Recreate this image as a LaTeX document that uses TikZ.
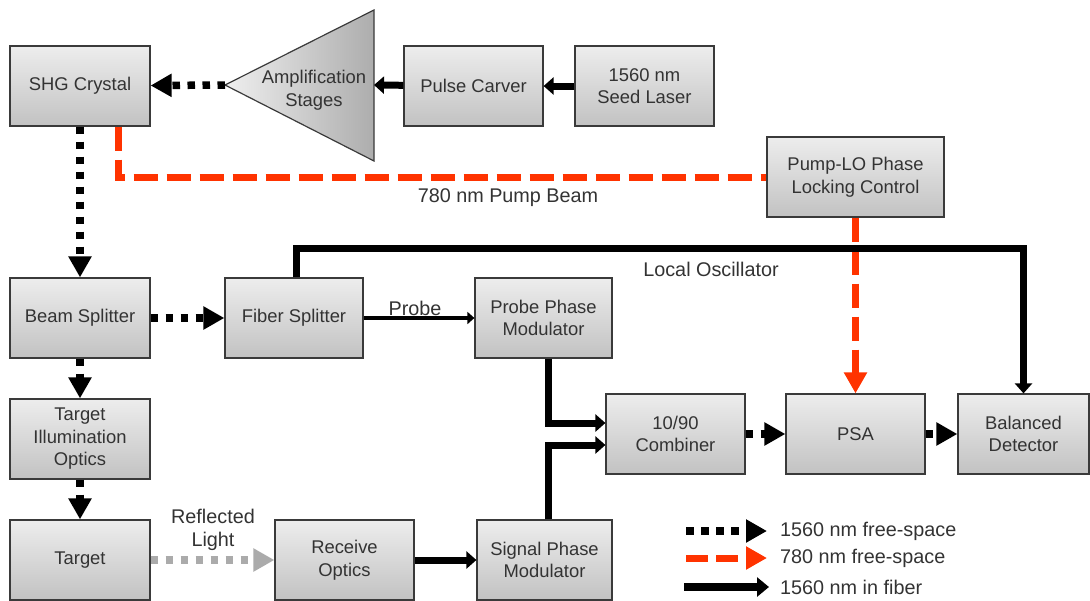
\documentclass[tikz,border=0pt]{standalone}
\usepackage{fontspec}
\setmainfont{Liberation Sans}
\usetikzlibrary{arrows.meta,shadings}
\definecolor{txt}{HTML}{333333}
\definecolor{pumpc}{HTML}{FF3300}
\definecolor{reflc}{HTML}{ABABAB}
\definecolor{edgec}{HTML}{3A3A3A}
\definecolor{boxtop}{HTML}{EDEDED}
\definecolor{boxbot}{HTML}{C2C2C2}
\definecolor{trileft}{HTML}{EFEFEF}
\definecolor{triright}{HTML}{ADADAD}
\begin{document}
\begin{tikzpicture}[x=1pt,y=-1pt,
  every node/.style={text=txt,font=\fontsize{18.4}{22.5}\selectfont},
  box/.style={draw=edgec,line width=1.2pt,top color=boxtop,bottom color=boxbot,
    minimum height=80pt,inner sep=0pt,align=center},
  lbl/.style={inner sep=0pt,align=center,font=\fontsize{19.8}{23}\selectfont},
  freesp/.style={line width=7.5pt,dash pattern=on 7.5pt off 7.5pt,
    -{Triangle[length=21pt,width=22pt]}},
  pumpln/.style={pumpc,line width=7pt,dash pattern=on 24pt off 9pt},
  pumparr/.style={pumpln,-{Triangle[length=21pt,width=22pt]}},
  reflln/.style={reflc,line width=7.5pt,dash pattern=on 7.5pt off 7.5pt,
    -{Triangle[length=21pt,width=22pt]}},
  fiber/.style={line width=7pt,line join=miter,-{Triangle[length=10pt,width=17pt]}},
  probeln/.style={line width=4.5pt,-{Triangle[length=7pt,width=12pt]}}
]
\useasboundingbox (0,0) rectangle (1090,600);

% boxes
\node[box,minimum width=140pt] (shg) at (80,86) {SHG Crystal};
\node[box,minimum width=139pt] (pulse) at (473.5,86) {Pulse Carver};
\node[box,minimum width=139pt] (seed) at (644.5,86) {1560 nm\\Seed Laser};
\node[box,minimum width=177pt] (pump) at (855.5,177) {Pump-LO Phase\\Locking Control};
\node[box,minimum width=140pt] (bs) at (80,318) {Beam Splitter};
\node[box,minimum width=138pt] (fs) at (294,318) {Fiber Splitter};
\node[box,minimum width=137pt] (ppm) at (543.5,318) {Probe Phase\\Modulator};
\node[box,minimum width=140pt] (tio) at (80,439) {Target\\Illumination\\Optics};
\node[box,minimum width=140pt] (target) at (80,560) {Target};
\node[box,minimum width=139pt] (ro) at (344.5,560) {Receive\\Optics};
\node[box,minimum width=135pt] (spm) at (544.5,560) {Signal Phase\\Modulator};
\node[box,minimum width=139pt] (comb) at (675.5,434) {10/90\\Combiner};
\node[box,minimum width=139pt] (psa) at (855.5,434) {PSA};
\node[box,minimum width=131pt] (bd) at (1023.5,434) {Balanced\\Detector};

% amplifier triangle
\coordinate (ampL) at (225,85);
\coordinate (ampR) at (374,85);
\draw[draw=edgec,line width=1.2pt,left color=trileft,right color=triright]
  (ampL) -- (374,10) -- (374,161) -- cycle;
\node[inner sep=0pt,align=center] (amptxt) at (314,90) {Amplification\\Stages};

% connectors
\draw[fiber] (seed) -- (pulse);
\draw[fiber] (pulse) -- (ampR);
\draw[freesp] (ampL) -- (shg);
\draw[freesp] (shg) -- (bs);
\draw[pumpln] ([xshift=38pt]shg.south) |- (pump.west);
\draw[pumparr] (pump) -- (psa);
\coordinate (lo) at (296,248);
\draw[fiber] (fs.north -| lo) -- (lo) -| (bd.north);
\draw[freesp] (bs) -- (fs);
\draw[probeln] (fs) -- (ppm);
\draw[fiber] ([xshift=4.5pt]ppm.south) |- ([yshift=11pt]comb.west);
\draw[fiber] ([xshift=3.5pt]spm.north) |- ([yshift=-11pt]comb.west);
\draw[freesp] (comb) -- (psa);
\draw[freesp] (psa) -- (bd);
\draw[freesp] (bs) -- (tio);
\draw[freesp] (tio) -- (target);
\draw[reflln] (target) -- (ro);
\draw[fiber] (ro) -- (spm);

% labels
\node[lbl] (pumplbl) at (508,198) {780 nm Pump Beam};
\node[lbl] (lolbl) at (711,269) {Local Oscillator};
\node[lbl] (probelbl) at (415,308) {Probe};
\node[lbl] (refllbl) at (213,530) {Reflected\\Light};

% legend
\coordinate (l1a) at (686,531); \coordinate (l1b) at (767,531);
\coordinate (l2a) at (686,558); \coordinate (l2b) at (767,558);
\coordinate (l3a) at (684,587); \coordinate (l3b) at (769,587);
\draw[freesp] (l1a) -- (l1b);
\draw[pumpln,dash pattern=on 22pt off 8pt,-{Triangle[length=21pt,width=22pt]}] (l2a) -- (l2b);
\draw[line width=8pt,-{Triangle[length=12pt,width=19pt]}] (l3a) -- (l3b);
\node[lbl,anchor=west] (leg1) at (780,531) {1560 nm free-space};
\node[lbl,anchor=west] (leg2) at (780,558) {780 nm free-space};
\node[lbl,anchor=west] (leg3) at (780,587) {1560 nm in fiber};
\end{tikzpicture}
\end{document}
